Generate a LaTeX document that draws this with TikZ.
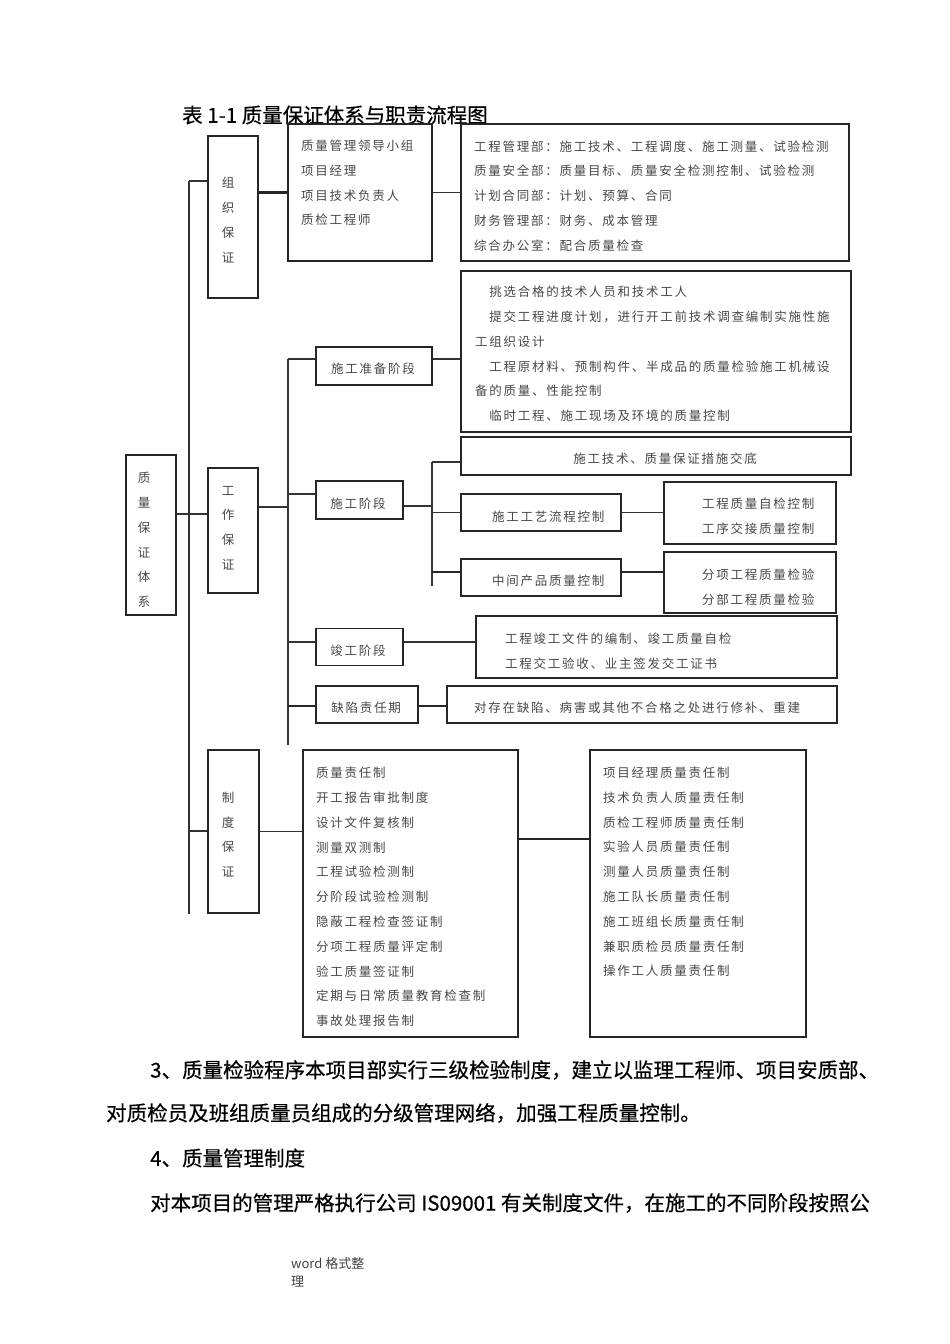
\documentclass[tikz,border=0pt]{standalone}
\usepackage{fontspec}
\setmainfont{Noto Sans CJK SC}
\newfontfamily\boxfont[LetterSpace=14]{Noto Sans CJK SC}
\newfontfamily\bodyfont[FakeBold=0.5]{Noto Sans CJK SC}

\begin{document}
\begin{tikzpicture}[x=1pt, y=-1pt,
    box/.style={draw=black!85, line width=1.1pt, inner sep=0pt},
    link/.style={draw=black!80, line width=1.1pt},
    heavy/.style={draw=black!85, line width=2.2pt},
    item/.style={font=\boxfont\fontsize{12.5}{24.8}\selectfont, text=black!72, inner sep=0pt, align=left},
    body/.style={font=\bodyfont\fontsize{20.5}{24}\selectfont, inner sep=0pt, anchor=west}]
    \useasboundingbox (0,0) rectangle (950,1344);

    \node [font=\bodyfont\fontsize{20.5}{24}\selectfont, inner sep=0pt, anchor=west] (title) at (182,115) {表 1-1 质量保证体系与职责流程图};

    % first column
    \node [box, minimum width=50, minimum height=160] (tixi) at (151,535) {};
    \node [item, align=center] (tixi-t) at (144,540) {质\\量\\保\\证\\体\\系};

    % second column
    \node [box, minimum width=50, minimum height=162] (zuzhi) at (233,217) {};
    \node [item, align=center] (zuzhi-t) at (228,220) {组\\织\\保\\证};
    \node [box, minimum width=50, minimum height=125] (gongzuo) at (233,530.5) {};
    \node [item, align=center] (gongzuo-t) at (228,528) {工\\作\\保\\证};
    \node [box, minimum width=51, minimum height=163] (zhidubz) at (233.5,831.5) {};
    \node [item, align=center] (zhidubz-t) at (228,834.5) {制\\度\\保\\证};

    % organisation
    \node [box, minimum width=144, minimum height=137] (lingdao) at (360,192.5) {};
    \node [item, anchor=west] (lingdao-t) at (301,183) {质量管理领导小组\\项目经理\\项目技术负责人\\质检工程师};
    \node [box, minimum width=388, minimum height=137] (bumen) at (655,192.5) {};
    \node [item, anchor=west] (bumen-t) at (474,196) {工程管理部：施工技术、工程调度、施工测量、试验检测\\质量安全部：质量目标、质量安全检测控制、试验检测\\计划合同部：计划、预算、合同\\财务管理部：财务、成本管理\\综合办公室：配合质量检查};

    % work stages
    \node [box, minimum width=116, minimum height=38] (zhunbei) at (374,366) {};
    \node [item] (zhunbei-t) at (373,369) {施工准备阶段};
    \node [box, minimum width=390, minimum height=161] (zbnr) at (656,351.5) {};
    \node [item, anchor=west] (zbnr-t) at (475,354) {　挑选合格的技术人员和技术工人\\　提交工程进度计划，进行开工前技术调查编制实施性施\\工组织设计\\　工程原材料、预制构件、半成品的质量检验施工机械设\\备的质量、性能控制\\　临时工程、施工现场及环境的质量控制};

    \node [box, minimum width=87, minimum height=38] (shigong) at (359.5,500) {};
    \node [item] (shigong-t) at (358,504) {施工阶段};
    \node [box, minimum width=390, minimum height=38] (jiaodi) at (656,456) {};
    \node [item] (jiaodi-t) at (665,459) {施工技术、质量保证措施交底};
    \node [box, minimum width=160, minimum height=37] (gongyi) at (541,512.5) {};
    \node [item, anchor=west] (gongyi-t) at (492,517) {施工工艺流程控制};
    \node [box, minimum width=172, minimum height=62] (zijian) at (750,513) {};
    \node [item, anchor=west] (zijian-t) at (702,516.5) {工程质量自检控制\\工序交接质量控制};
    \node [box, minimum width=160, minimum height=37] (zhongjian) at (541,577.5) {};
    \node [item, anchor=west] (zhongjian-t) at (492,581) {中间产品质量控制};
    \node [box, minimum width=172, minimum height=61] (jianyan) at (750,582.5) {};
    \node [item, anchor=west] (jianyan-t) at (702,587) {分项工程质量检验\\分部工程质量检验};

    \node [box, minimum width=87, minimum height=37] (jungong) at (359.5,647) {};
    \node [item] (jungong-t) at (358,651) {竣工阶段};
    \node [box, minimum width=361, minimum height=62] (jgnr) at (656.5,647) {};
    \node [item, anchor=west] (jgnr-t) at (505,651) {工程竣工文件的编制、竣工质量自检\\工程交工验收、业主签发交工证书};

    \node [box, minimum width=102, minimum height=37] (quexian) at (367,704.5) {};
    \node [item] (quexian-t) at (366,708) {缺陷责任期};
    \node [box, minimum width=390, minimum height=37] (qxnr) at (642,704.5) {};
    \node [item, anchor=west] (qxnr-t) at (474,708) {对存在缺陷、病害或其他不合格之处进行修补、重建};

    % rules
    \node [box, minimum width=215, minimum height=287] (zhidu) at (410.5,893.5) {};
    \node [item, anchor=west] (zhidu-t) at (316,897) {质量责任制\\开工报告审批制度\\设计文件复核制\\测量双测制\\工程试验检测制\\分阶段试验检测制\\隐蔽工程检查签证制\\分项工程质量评定制\\验工质量签证制\\定期与日常质量教育检查制\\事故处理报告制};
    \node [box, minimum width=216, minimum height=287] (zeren) at (698,893.5) {};
    \node [item, anchor=west] (zeren-t) at (603,872) {项目经理质量责任制\\技术负责人质量责任制\\质检工程师质量责任制\\实验人员质量责任制\\测量人员质量责任制\\施工队长质量责任制\\施工班组长质量责任制\\兼职质检员质量责任制\\操作工人质量责任制};

    % trunk lines
    \coordinate (t1a) at (189,181);
    \coordinate (t1b) at (189,914);
    \coordinate (t1c) at (189,514);
    \coordinate (t1d) at (189,831);
    \draw [link] (t1a) -- (t1b);
    \draw [link] (t1a) -- (t1a -| zuzhi.west);
    \draw [link] (tixi.east |- t1c) -- (gongzuo.west |- t1c);
    \draw [link] (t1d) -- (t1d -| zhidubz.west);
    \draw [heavy] (zuzhi.east |- lingdao.west) -- (lingdao.west);
    \draw [link] (lingdao.east) -- (bumen.west);

    \coordinate (t2a) at (288,359);
    \coordinate (t2b) at (288,745);
    \coordinate (t2c) at (288,507);
    \coordinate (t2d) at (288,494);
    \coordinate (t2e) at (288,642);
    \coordinate (t2f) at (288,706);
    \draw [link] (t2a) -- (t2b);
    \draw [link] (gongzuo.east |- t2c) -- (t2c);
    \draw [link] (t2a) -- (t2a -| zhunbei.west);
    \draw [link] (zhunbei.east |- t2a) -- (zbnr.west |- t2a);
    \draw [link] (t2d) -- (t2d -| shigong.west);
    \draw [link] (t2e) -- (t2e -| jungong.west);
    \draw [link] (jungong.east |- t2e) -- (jgnr.west |- t2e);
    \draw [heavy] (t2f) -- (t2f -| quexian.west);
    \draw [heavy] (quexian.east |- t2f) -- (qxnr.west |- t2f);

    \coordinate (t3a) at (432,462);
    \coordinate (t3b) at (432,586);
    \coordinate (t3c) at (432,506);
    \coordinate (t3d) at (432,572);
    \draw [link] (t3a) -- (t3b);
    \draw [link] (t3c -| shigong.east) -- (t3c);
    \draw [link] (t3a) -- (t3a -| jiaodi.west);
    \draw [link] (t3a |- gongyi.west) -- (gongyi.west);
    \draw [link] (gongyi.east) -- (gongyi.east -| zijian.west);
    \draw [heavy] (t3d) -- (t3d -| zhongjian.west);
    \draw [heavy] (t3d -| zhongjian.east) -- (t3d -| jianyan.west);

    \coordinate (zr) at (554,839);
    \draw [link] (zhidubz.east) -- (zhidubz.east -| zhidu.west);
    \draw [heavy] (zr -| zhidu.east) -- (zr -| zeren.west);

    % text below
    \node [body] (para1) at (150,1070) {3、质量检验程序本项目部实行三级检验制度，建立以监理工程师、项目安质部、};
    \node [body] (para2) at (106,1113) {对质检员及班组质量员组成的分级管理网络，加强工程质量控制。};
    \node [body] (para3) at (150,1158) {4、质量管理制度};
    \node [body] (para4) at (150,1203) {对本项目的管理严格执行公司 IS09001 有关制度文件，在施工的不同阶段按照公};

    \node [font=\fontsize{13}{18}\selectfont, text=black!75, inner sep=0pt, anchor=west, align=left] (footer) at (291,1272) {word 格式整\\理};
\end{tikzpicture}
\end{document}
